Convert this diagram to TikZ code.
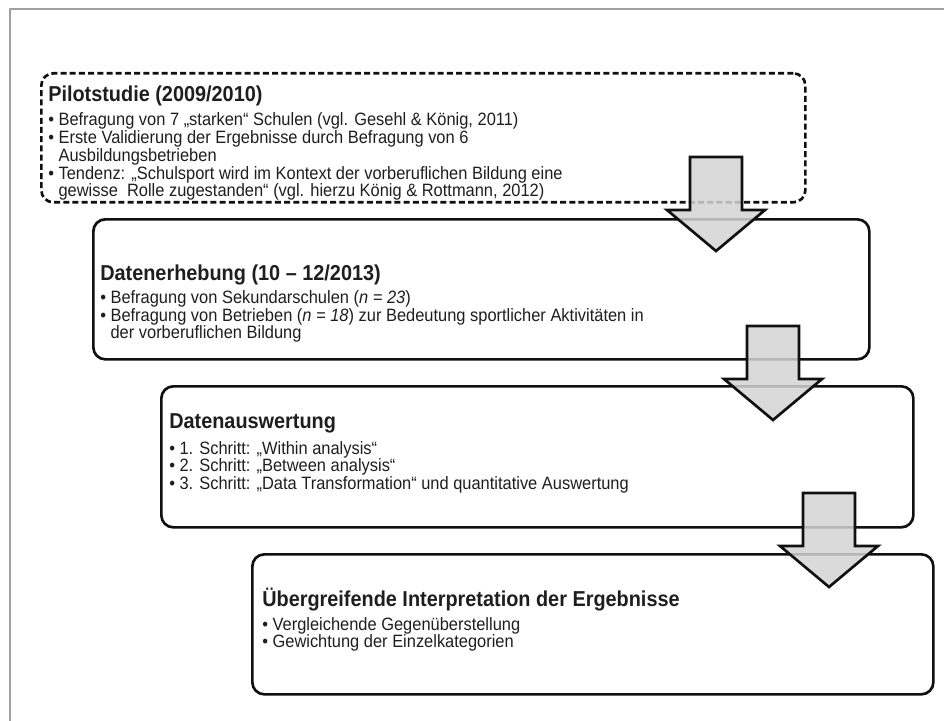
\documentclass[tikz,border=0pt]{standalone}
\usepackage{fontspec}
\setmainfont[FakeStretch=0.92]{Liberation Sans}
\usetikzlibrary{positioning}
\definecolor{fwInk}{HTML}{1E1E1E}
\definecolor{fwLine}{HTML}{101010}
\definecolor{fwFrame}{HTML}{A0A0A0}
\definecolor{fwFill}{HTML}{D4D4D4}
\tikzset{
 flow/.style={x=0.75pt,y=-0.75pt,line join=round,text=fwInk},
 stage/.style 2 args={rectangle,draw=fwLine,line width=2pt,rounded corners=9pt,
   anchor=north west,inner sep=0pt,minimum width=#1*0.75pt,minimum height=#2*0.75pt},
 pilotstage/.style 2 args={stage={#1}{#2},dash pattern=on 4.5pt off 2.4pt},
 stagetitle/.style={font=\fontsize{16.2}{18}\selectfont\bfseries,anchor=base west,inner sep=0pt},
 itemlist/.style={font=\fontsize{13.4}{13.3}\selectfont,align=left,inner sep=0pt},
 blockarrow/.style={draw=fwLine,line width=2pt,fill=fwFill,fill opacity=.85,line join=miter},
 frameline/.style={draw=fwFrame,line width=1.5pt}
}
\newcommand{\itm}{\textbullet\ }
\newcommand{\itmcont}{\phantom{\textbullet\ }}
\newcommand{\stageArrow}[2]{%
 \begin{scope}[shift={(#1,#2)}]
 \draw[blockarrow] (-26,0)--(26,0)--(26,53)--(49,53)--(0,94)--(-49,53)--(-26,53)--cycle;
 \end{scope}}

\begin{document}
\begin{tikzpicture}[flow]
 \useasboundingbox (0,0) rectangle (944,720);
 \draw[frameline] (10,722)--(10,9)--(946,9);
 % stages
 \node[pilotstage={764}{129}] (pilot) at (40,72) {};
 \node[stagetitle] (pilotTitle) at (48,102) {Pilotstudie (2009/2010)};
 \node[itemlist,below=4.5pt of pilotTitle.south west,anchor=north west] (pilotList) {%
  \itm Befragung von 7 „starken“ Schulen (vgl. Gesehl \& König, 2011)\\
  \itm Erste Validierung der Ergebnisse durch Befragung von 6\\
  \itmcont Ausbildungsbetrieben\\
  \itm Tendenz: „Schulsport wird im Kontext der vorberuflichen Bildung eine\\
  \itmcont gewisse\ \ Rolle zugestanden“ (vgl. hierzu König \& Rottmann, 2012)};
 \node[stage={776}{140}] (survey) at (92,218) {};
 \node[stagetitle] (surveyTitle) at (100,280) {Datenerhebung (10 – 12/2013)};
 \node[itemlist,below=4pt of surveyTitle.south west,anchor=north west] (surveyList) {%
  \itm Befragung von Sekundarschulen (\textit{n = 23})\\
  \itm Befragung von Betrieben (\textit{n = 18}) zur Bedeutung sportlicher Aktivitäten in\\
  \itmcont der vorberuflichen Bildung};
 \node[stage={752}{141}] (analysis) at (160,385) {};
 \node[stagetitle] (analysisTitle) at (169,428) {Datenauswertung};
 \node[itemlist,below=6pt of analysisTitle.south west,anchor=north west] (analysisList) {%
  \itm 1. Schritt: „Within analysis“\\
  \itm 2. Schritt: „Between analysis“\\
  \itm 3. Schritt: „Data Transformation“ und quantitative Auswertung};
 \node[stage={681}{140}] (synthesis) at (251,553) {};
 \node[stagetitle] (synthesisTitle) at (262,606) {Übergreifende Interpretation der Ergebnisse};
 \node[itemlist,below=4.5pt of synthesisTitle.south west,anchor=north west] (synthesisList) {%
  \itm Vergleichende Gegenüberstellung\\
  \itm Gewichtung der Einzelkategorien};
 % arrows between stages
 \stageArrow{716}{157}
 \stageArrow{773}{326}
 \stageArrow{829}{493}
\end{tikzpicture}
\end{document}
